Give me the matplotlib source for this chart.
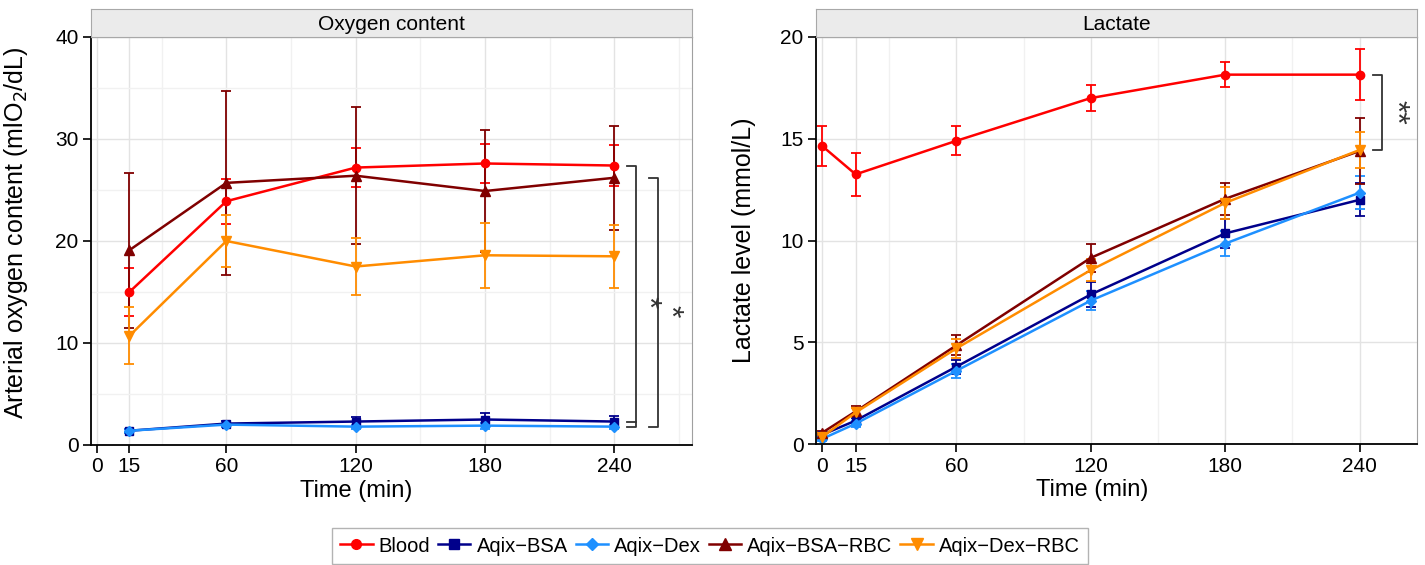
import matplotlib
matplotlib.use("Agg")
import matplotlib.pyplot as plt
from matplotlib.lines import Line2D
from matplotlib.ticker import MultipleLocator, FixedLocator

plt.rcParams['font.family'] = ['Liberation Sans', 'DejaVu Sans']

# Oxygen content data (mlO2/dL)
time_oxy = [15, 60, 120, 180, 240]
oxy_blood = [15.0, 23.9, 27.2, 27.6, 27.4]
oxy_blood_err = [2.4, 2.2, 1.9, 1.9, 2.0]
oxy_bsa = [1.4, 2.1, 2.3, 2.5, 2.3]
oxy_bsa_err = [0.2, 0.3, 0.4, 0.6, 0.5]
oxy_dex = [1.4, 2.0, 1.8, 1.9, 1.8]
oxy_dex_err = [0.2, 0.2, 0.2, 0.3, 0.2]
oxy_bsa_rbc = [19.1, 25.7, 26.4, 24.9, 26.2]
oxy_bsa_rbc_err = [7.6, 9.0, 6.7, 6.0, 5.1]
oxy_dex_rbc = [10.7, 20.0, 17.5, 18.6, 18.5]
oxy_dex_rbc_err = [2.8, 2.5, 2.8, 3.2, 3.1]

# Lactate data (mmol/L)
time_lac = [0, 15, 60, 120, 180, 240]
lac_blood = [14.65, 13.25, 14.9, 17.0, 18.15, 18.15]
lac_blood_err = [1.0, 1.07, 0.72, 0.62, 0.6, 1.25]
lac_bsa = [0.45, 1.15, 3.8, 7.35, 10.35, 12.0]
lac_bsa_err = [0.1, 0.15, 0.35, 0.6, 0.7, 0.82]
lac_dex = [0.25, 1.0, 3.6, 7.05, 9.85, 12.35]
lac_dex_err = [0.1, 0.15, 0.35, 0.45, 0.6, 0.8]
lac_bsa_rbc = [0.55, 1.6, 4.85, 9.15, 12.05, 14.4]
lac_bsa_rbc_err = [0.1, 0.25, 0.5, 0.7, 0.8, 1.6]
lac_dex_rbc = [0.35, 1.55, 4.7, 8.55, 11.85, 14.45]
lac_dex_rbc_err = [0.1, 0.2, 0.45, 0.55, 0.8, 0.87]

groups = ['Blood', 'Aqix\u2212BSA', 'Aqix\u2212Dex', 'Aqix\u2212BSA\u2212RBC', 'Aqix\u2212Dex\u2212RBC']
colors = ['#ff0000', '#00008b', '#1e90ff', '#800000', '#ff8c00']
markers = ['o', 's', 'D', '^', 'v']
msizes = [6, 5.5, 5.5, 7, 7]

fig = plt.figure(figsize=(14.25, 5.65), dpi=100)
W, H = 1425, 565


def px_axes(l, t, r, b):
    return [l / W, 1 - b / H, (r - l) / W, (b - t) / H]


ax1 = fig.add_axes(px_axes(91, 37, 692, 445))
ax2 = fig.add_axes(px_axes(816, 37, 1417, 444))


def style_axes(ax, title):
    ax.set_axisbelow(True)
    ax.grid(which='major', color='#e3e3e3', lw=1.0)
    ax.grid(which='minor', color='#f1f1f1', lw=1.0)
    for s in ['top', 'right']:
        ax.spines[s].set_color('#a0a0a0')
    for s in ['left', 'bottom']:
        ax.spines[s].set_color('black')
        ax.spines[s].set_linewidth(1.3)
    ax.tick_params(which='major', direction='out', length=6, width=1.2, labelsize=15, pad=3)
    ax.tick_params(which='minor', length=0)
    # strip header
    pos = ax.get_position()
    sax = fig.add_axes([pos.x0, pos.y1, pos.width, 28 / H])
    sax.set_facecolor('#ebebeb')
    sax.set_xticks([])
    sax.set_yticks([])
    for s in sax.spines.values():
        s.set_color('#a8a8a8')
    sax.text(0.5, 0.45, title, ha='center', va='center', fontsize=15, transform=sax.transAxes)


def draw(ax, t, series):
    for (y, e), c, m, ms, lab in zip(series, colors, markers, msizes, groups):
        ax.errorbar(t, y, yerr=e, color=c, marker=m, ms=ms, lw=1.8,
                    elinewidth=1.3, capsize=3.5, capthick=1.3, label=lab)


oxy_series = [(oxy_blood, oxy_blood_err), (oxy_bsa, oxy_bsa_err), (oxy_dex, oxy_dex_err),
              (oxy_bsa_rbc, oxy_bsa_rbc_err), (oxy_dex_rbc, oxy_dex_rbc_err)]
lac_series = [(lac_blood, lac_blood_err), (lac_bsa, lac_bsa_err), (lac_dex, lac_dex_err),
              (lac_bsa_rbc, lac_bsa_rbc_err), (lac_dex_rbc, lac_dex_rbc_err)]

draw(ax1, time_oxy, oxy_series)
draw(ax2, time_lac, lac_series)

# left panel axes
ax1.set_xlim(-2.8, 276)
ax1.set_ylim(0, 40)
ax1.xaxis.set_major_locator(FixedLocator([0, 15, 60, 120, 180, 240]))
ax1.xaxis.set_minor_locator(MultipleLocator(30))
ax1.yaxis.set_major_locator(MultipleLocator(10))
ax1.yaxis.set_minor_locator(MultipleLocator(5))
ax1.set_xlabel('Time (min)', fontsize=17)
ax1.xaxis.set_label_coords((356 - 91) / (692 - 91), -0.085)
ax1.set_ylabel('Arterial oxygen content (mlO$_2$/dL)', fontsize=18)
ax1.yaxis.set_label_coords(-0.102, 0.52)
style_axes(ax1, 'Oxygen content')

# right panel axes
ax2.set_xlim(-2.7, 265.6)
ax2.set_ylim(0, 20)
ax2.xaxis.set_major_locator(FixedLocator([0, 15, 60, 120, 180, 240]))
ax2.xaxis.set_minor_locator(MultipleLocator(30))
ax2.yaxis.set_major_locator(MultipleLocator(5))
ax2.yaxis.set_minor_locator(MultipleLocator(5))
ax2.set_xlabel('Time (min)', fontsize=17)
ax2.xaxis.set_label_coords((1092 - 816) / (1417 - 816), -0.085)
ax2.set_ylabel('Lactate level (mmol/L)', fontsize=18)
ax2.yaxis.set_label_coords(-0.1, 0.5)
style_axes(ax2, 'Lactate')


# significance brackets
def bracket(ax, x0, x1, y0, y1, label, tx, ty):
    ax.plot([x0, x1, x1, x0], [y0, y0, y1, y1], color='#333333', lw=1.3, clip_on=False)
    ax.text(tx, ty, label, rotation=270, ha='center', va='center', fontsize=23, color='#333333')


bracket(ax1, 246, 250, oxy_blood[-1], oxy_dex[-1], '*', 255, 14.0)
ax1.plot([246, 250], [oxy_bsa[-1], oxy_bsa[-1]], color='#333333', lw=1.3)
bracket(ax1, 256, 260, oxy_bsa_rbc[-1], oxy_dex[-1], '*', 265, 13.1)
bracket(ax2, 246, 250, lac_blood[-1], lac_dex_rbc[-1], '**', 255.5, 16.3)

handles = [Line2D([], [], color=c, marker=m, ms=ms, lw=1.8)
           for c, m, ms in zip(colors, markers, [7, 6.5, 6.5, 8, 8])]
fig.legend(handles=handles, labels=groups, loc='center', ncol=5,
           bbox_to_anchor=(710 / W, 1 - 546 / H), fontsize=14.5, frameon=True,
           fancybox=False, edgecolor='#a0a0a0', handlelength=1.6, handletextpad=0.3,
           columnspacing=0.4, borderpad=0.4)

fig.savefig('out.png', dpi=100)
